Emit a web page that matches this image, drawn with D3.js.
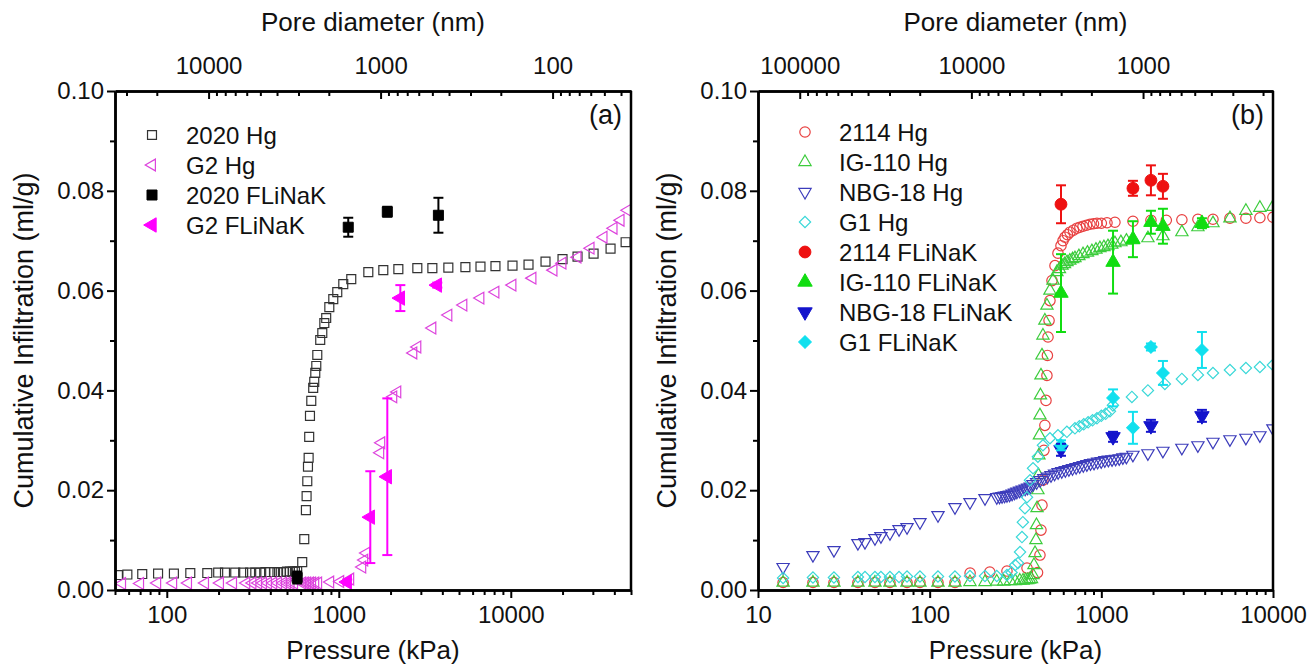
<!DOCTYPE html>
<html>
<head>
<meta charset="utf-8">
<script src="https://cdn.jsdelivr.net/npm/d3@7"></script>
<style>
  body { margin: 0; background: #fff; }
  svg { display: block; }
  text { font-family: "Liberation Sans", Arial, sans-serif; fill: #111; }
</style>
</head>
<body>
<svg id="chart" width="1312" height="668"></svg>
<script>
// ---- panel (a) data: pressure (kPa) and cumulative infiltration (ml/g) ----
const aHg2020P = [52, 59, 72, 89, 110, 137, 172, 199, 218, 250, 278, 305, 327, 349, 374, 399, 420, 440, 460, 480,
  500, 520, 540, 556, 573, 613, 630, 644, 650, 656, 662, 668, 673, 680, 692, 710, 720, 730, 740, 750,
  780, 802, 824, 845, 881, 929, 980, 1062, 1182, 1485, 1815, 2220, 2862, 3500, 4335, 5447, 6666, 8146, 10234, 12680,
  15920, 19990, 24440, 30300, 38030, 46520];
const aHg2020V = [0.0030, 0.0031, 0.0032, 0.0033, 0.0033, 0.0034, 0.0034, 0.0035, 0.0035, 0.0035, 0.0035, 0.0035, 0.0035, 0.0035, 0.0036, 0.0036, 0.0036, 0.0036, 0.0036, 0.0036,
  0.0037, 0.0037, 0.0037, 0.0037, 0.0038, 0.0056, 0.0102, 0.0160, 0.0188, 0.0218, 0.0247, 0.0265, 0.0307, 0.0349, 0.0379, 0.0405, 0.0417, 0.0435, 0.0449, 0.0471,
  0.0501, 0.0515, 0.0535, 0.0545, 0.0567, 0.0583, 0.0597, 0.0613, 0.0623, 0.0637, 0.0641, 0.0643, 0.0645, 0.0645, 0.0646, 0.0647, 0.0648, 0.0649, 0.0650, 0.0652,
  0.0658, 0.0663, 0.0668, 0.0674, 0.0684, 0.0697];

const aHgG2P = [55, 70, 88, 109, 133, 167, 204, 243, 290, 315, 340, 363, 388, 416, 444, 475, 501, 525, 550, 613,
  635, 655, 680, 700, 730, 759, 892, 1020, 1166, 1370, 1407, 1445, 1743, 1767, 2075, 2190, 2714, 2864, 3501, 4338,
  5303, 6661, 8145, 10228, 13370, 17720, 19990, 24440, 29110, 34630, 39600, 43500, 47780];
const aHgG2V = [0.0013, 0.0013, 0.0014, 0.0014, 0.0014, 0.0014, 0.0014, 0.0014, 0.0014, 0.0014, 0.0014, 0.0014, 0.0014, 0.0014, 0.0014, 0.0014, 0.0014, 0.0014, 0.0014, 0.0014,
  0.0014, 0.0014, 0.0014, 0.0014, 0.0014, 0.0014, 0.0016, 0.0017, 0.0022, 0.0046, 0.0060, 0.0074, 0.0275, 0.0295, 0.0387, 0.0397, 0.0475, 0.0487, 0.0525, 0.0551,
  0.0571, 0.0585, 0.0597, 0.0611, 0.0625, 0.0641, 0.0655, 0.0667, 0.0685, 0.0707, 0.0725, 0.0741, 0.0761];

const aFl2020P = [573, 1135, 1915, 3795];
const aFl2020V = [0.0025, 0.0727, 0.0758, 0.0751];
const aFl2020E = [0.0012, 0.0019, 0.0010, 0.0035];

const aFlG2P = [1120, 1525, 1915, 2280, 3740];
const aFlG2V = [0.0016, 0.0146, 0.0227, 0.0585, 0.0611];
const aFlG2E = [0.0005, 0.0092, 0.0157, 0.0026, 0.0005];

// ---- panel (b) data ----
const bHg2114P = [14.0, 20.9, 27.7, 38.2, 48.0, 58.7, 73.8, 87.8, 111.8, 140.4, 172, 224, 282, 369, 425, 439, 445, 451, 457, 463,
  469, 476, 482, 485, 489, 496, 502, 516, 537, 559, 582, 598, 614, 635, 657, 688, 721, 750, 782, 820,
  859, 900, 943, 1000, 1079, 1200, 1528, 1945, 2390, 2946, 3652, 4470, 5613, 6953, 8389, 9988];
const bHg2114V = [0.0015, 0.0015, 0.0015, 0.0015, 0.0015, 0.0015, 0.0015, 0.0015, 0.0015, 0.0015, 0.0034, 0.0036, 0.0038, 0.0044, 0.0035, 0.0070, 0.0120, 0.0170, 0.0220, 0.0280,
  0.0330, 0.0380, 0.0430, 0.0470, 0.0507, 0.0540, 0.0580, 0.0620, 0.0650, 0.0675, 0.0690, 0.0700, 0.0707, 0.0712, 0.0717, 0.0721, 0.0725, 0.0727, 0.0729, 0.0731,
  0.0733, 0.0734, 0.0735, 0.0735, 0.0736, 0.0737, 0.0739, 0.0741, 0.0741, 0.0742, 0.0743, 0.0743, 0.0745, 0.0745, 0.0746, 0.0747];

const bHgIG110P = [14.0, 20.9, 27.7, 38.2, 48.0, 58.7, 73.8, 87.8, 111.8, 140.4, 171.7, 210, 246, 270, 295, 315, 335, 350, 362, 372,
  382, 392, 400, 405, 411, 416, 419, 422, 427, 430, 433, 436, 439, 442, 445, 451, 457, 469, 482, 502,
  523, 551, 570, 590, 610, 631, 655, 680, 702, 740, 782, 830, 881, 930, 981, 1035, 1093, 1150, 1200, 1300,
  1400, 1528, 1868, 2284, 2946, 3652, 4470, 5613, 6953, 8389, 9988];
const bHgIG110V = [0.0015, 0.0015, 0.0015, 0.0015, 0.0015, 0.0015, 0.0015, 0.0015, 0.0015, 0.0015, 0.0016, 0.0016, 0.0017, 0.0017, 0.0018, 0.0018, 0.0019, 0.0019, 0.0020, 0.0020,
  0.0021, 0.0022, 0.0030, 0.0050, 0.0074, 0.0100, 0.0130, 0.0164, 0.0200, 0.0230, 0.0270, 0.0310, 0.0350, 0.0390, 0.0430, 0.0470, 0.0510, 0.0540, 0.0570, 0.0600,
  0.0620, 0.0637, 0.0643, 0.0650, 0.0653, 0.0657, 0.0660, 0.0663, 0.0665, 0.0669, 0.0673, 0.0676, 0.0679, 0.0682, 0.0685, 0.0687, 0.0689, 0.0692, 0.0695, 0.0697,
  0.0700, 0.0701, 0.0705, 0.0709, 0.0717, 0.0727, 0.0735, 0.0745, 0.0760, 0.0766, 0.0768];

const bHgNBG18P = [14.0, 20.9, 27.7, 38.2, 42.0, 48.0, 52.0, 58.7, 66.3, 73.8, 87.8, 111.8, 140.4, 171.7, 210, 246, 255, 264, 273, 282,
  292, 302, 312, 322, 334, 346, 360, 372, 385, 400, 420, 440, 462, 485, 509, 534, 560, 588, 617, 647,
  679, 713, 748, 785, 824, 865, 907, 952, 999, 1048, 1100, 1155, 1212, 1272, 1335, 1400, 1528, 1868, 2284, 2946,
  3652, 4470, 5613, 6953, 8389, 9988];
const bHgNBG18V = [0.0046, 0.0070, 0.0080, 0.0094, 0.0096, 0.0104, 0.0108, 0.0114, 0.0122, 0.0126, 0.0136, 0.0150, 0.0166, 0.0176, 0.0184, 0.0186, 0.0187, 0.0188, 0.0189, 0.0190,
  0.0191, 0.0193, 0.0195, 0.0197, 0.0199, 0.0201, 0.0203, 0.0205, 0.0207, 0.0212, 0.0216, 0.0220, 0.0224, 0.0227, 0.0230, 0.0233, 0.0236, 0.0238, 0.0240, 0.0242,
  0.0244, 0.0246, 0.0248, 0.0250, 0.0252, 0.0254, 0.0255, 0.0257, 0.0258, 0.0260, 0.0261, 0.0262, 0.0263, 0.0264, 0.0266, 0.0267, 0.0271, 0.0274, 0.0279, 0.0285,
  0.0290, 0.0297, 0.0302, 0.0305, 0.0310, 0.0324];

const bHgG1P = [14.0, 20.9, 27.7, 38.2, 42.0, 48.0, 52.0, 58.7, 66.3, 73.8, 87.8, 111.8, 140.4, 171.7, 210, 246, 282, 300, 315, 327,
  336, 345, 349, 359, 369, 384, 400, 427, 457, 502, 559, 630, 702, 745, 790, 838, 889, 943, 1000, 1060,
  1122, 1168, 1507, 1868, 2345, 2946, 3652, 4470, 5613, 6953, 8389, 9988];
const bHgG1V = [0.0024, 0.0025, 0.0025, 0.0026, 0.0026, 0.0026, 0.0026, 0.0026, 0.0026, 0.0027, 0.0027, 0.0027, 0.0027, 0.0028, 0.0028, 0.0028, 0.0030, 0.0035, 0.0050, 0.0054,
  0.0076, 0.0106, 0.0136, 0.0164, 0.0186, 0.0220, 0.0244, 0.0267, 0.0290, 0.0304, 0.0310, 0.0317, 0.0324, 0.0328, 0.0332, 0.0336, 0.0340, 0.0344, 0.0349, 0.0353,
  0.0358, 0.0370, 0.0387, 0.0400, 0.0413, 0.0423, 0.0431, 0.0435, 0.0441, 0.0445, 0.0447, 0.0451];

const bFl2114P = [582, 1528, 1945, 2285];
const bFl2114V = [0.0773, 0.0805, 0.0821, 0.0809];
const bFl2114E = [0.0038, 0.0015, 0.0030, 0.0025];

const bFlIG110P = [582, 1170, 1528, 1945, 2285, 3855];
const bFlIG110V = [0.0595, 0.0657, 0.0703, 0.0737, 0.0729, 0.0735];
const bFlIG110E = [0.0078, 0.0063, 0.0036, 0.0023, 0.0035, 0.0010];

const bFlNBG18P = [582, 1170, 1945, 3855];
const bFlNBG18V = [0.0281, 0.0307, 0.0329, 0.0349];
const bFlNBG18E = [0.0012, 0.0010, 0.0012, 0.0012];

const bFlG1P = [582, 1170, 1528, 1945, 2285, 3855];
const bFlG1V = [0.0290, 0.0385, 0.0325, 0.0487, 0.0435, 0.0481];
const bFlG1E = [0.0010, 0.0017, 0.0032, 0.0007, 0.0024, 0.0036];

const yTicks = [0, 0.02, 0.04, 0.06, 0.08, 0.10];
const aPressureTicks = [100, 1000, 10000];
const aPoreTicks = [10000, 1000, 100];
const bPressureTicks = [10, 100, 1000, 10000];
const bPoreTicks = [100000, 10000, 1000];

const K = 1.75e6; // pore diameter (nm) * pressure (kPa)

const svg = d3.select("#chart");
const plotTop = 91, plotBottom = 590;

function zip(p, v, e) {
  return p.map((d, i) => ({ p: d, v: v[i], e: e ? e[i] : 0 }));
}

function markerPath(m) {
  return d3.symbol().type(m.type).size(m.size)();
}

function drawMarkers(g, x, y, data, m) {
  g.selectAll(null)
    .data(data)
    .enter().append("path")
    .attr("d", markerPath(m))
    .attr("transform", d => `translate(${x(d.p)},${y(d.v)}) rotate(${m.rot || 0})`)
    .attr("fill", m.filled ? m.color : "none")
    .attr("stroke", m.color)
    .attr("stroke-width", m.filled ? 1 : 1.2);
}

function drawErrors(g, x, y, data, color) {
  const eb = g.selectAll(null).data(data).enter().append("g").attr("stroke", color).attr("stroke-width", 2);
  eb.append("line").attr("x1", d => x(d.p)).attr("x2", d => x(d.p))
    .attr("y1", d => y(d.v - d.e)).attr("y2", d => y(d.v + d.e));
  eb.append("line").attr("x1", d => x(d.p) - 5).attr("x2", d => x(d.p) + 5)
    .attr("y1", d => y(d.v - d.e)).attr("y2", d => y(d.v - d.e));
  eb.append("line").attr("x1", d => x(d.p) - 5).attr("x2", d => x(d.p) + 5)
    .attr("y1", d => y(d.v + d.e)).attr("y2", d => y(d.v + d.e));
}

function drawPanel(cfg) {
  const x = d3.scaleLog().domain(cfg.xDomain).range([cfg.left, cfg.right]);
  const y = d3.scaleLinear().domain([0, 0.1]).range([plotBottom, plotTop]);
  const xd = d3.scaleLog().domain([K / cfg.xDomain[0], K / cfg.xDomain[1]]).range([cfg.left, cfg.right]);
  const g = svg.append("g");

  g.append("clipPath").attr("id", "clip-" + cfg.id)
    .append("rect").attr("x", cfg.left).attr("y", plotTop)
    .attr("width", cfg.right - cfg.left).attr("height", plotBottom - plotTop);

  const plot = g.append("g").attr("clip-path", `url(#clip-${cfg.id})`);
  cfg.series.forEach(s => {
    const data = zip(s.p, s.v, s.e);
    if (s.e) drawErrors(g, x, y, data, s.m.color);
    drawMarkers(plot, x, y, data, s.m);
  });

  // bottom axis
  const minorX = x.ticks().filter(t => cfg.pTicks.indexOf(t) < 0);
  g.append("g").attr("class", "axis").attr("transform", `translate(0,${plotBottom})`)
    .call(d3.axisBottom(x).tickValues(minorX).tickFormat("").tickSizeInner(5).tickSizeOuter(0));
  g.append("g").attr("class", "axis").attr("transform", `translate(0,${plotBottom})`)
    .call(d3.axisBottom(x).tickValues(cfg.pTicks).tickFormat(d3.format("d")).tickSizeInner(8).tickSizeOuter(0).tickPadding(8));

  // top axis (pore diameter), ticks inward
  const minorD = xd.ticks().filter(t => cfg.dTicks.indexOf(t) < 0);
  g.append("g").attr("class", "axis").attr("transform", `translate(0,${plotTop})`)
    .call(d3.axisTop(xd).tickValues(minorD).tickFormat("").tickSizeInner(-5).tickSizeOuter(0));
  g.append("g").attr("class", "axis").attr("transform", `translate(0,${plotTop})`)
    .call(d3.axisTop(xd).tickValues(cfg.dTicks).tickFormat(d3.format("d")).tickSizeInner(-8).tickSizeOuter(0).tickPadding(17));

  // left axis
  g.append("g").attr("class", "axis").attr("transform", `translate(${cfg.left},0)`)
    .call(d3.axisLeft(y).tickValues([0.01, 0.03, 0.05, 0.07, 0.09]).tickFormat("").tickSizeInner(5).tickSizeOuter(0));
  g.append("g").attr("class", "axis").attr("transform", `translate(${cfg.left},0)`)
    .call(d3.axisLeft(y).tickValues(yTicks).tickFormat(d3.format(".2f")).tickSizeInner(8).tickSizeOuter(0).tickPadding(3));

  // right frame
  g.append("line").attr("x1", cfg.right).attr("x2", cfg.right).attr("y1", plotTop).attr("y2", plotBottom)
    .attr("stroke", "#000").attr("stroke-width", 2.5);

  // titles
  const cx = (cfg.left + cfg.right) / 2;
  g.append("text").attr("x", cx).attr("y", 659).attr("text-anchor", "middle")
    .attr("font-size", 26).text("Pressure (kPa)");
  g.append("text").attr("x", cx).attr("y", 31).attr("text-anchor", "middle")
    .attr("font-size", 26).text("Pore diameter (nm)");
  g.append("text").attr("transform", `translate(${cfg.left - 82},${(plotTop + plotBottom) / 2}) rotate(-90)`)
    .attr("text-anchor", "middle").attr("font-size", 27).text("Cumulative Infiltration (ml/g)");
  g.append("text").attr("x", cfg.right - 9).attr("y", 124).attr("text-anchor", "end")
    .attr("font-size", 27).text(cfg.label);

  // legend
  cfg.series.forEach((s, i) => {
    const ly = cfg.legend.y + i * 30;
    g.append("path").attr("d", markerPath(s.m))
      .attr("transform", `translate(${cfg.legend.x},${ly}) rotate(${s.m.rot || 0})`)
      .attr("fill", s.m.filled ? s.m.color : "none")
      .attr("stroke", s.m.color).attr("stroke-width", s.m.filled ? 1 : 1.2);
    g.append("text").attr("x", cfg.legend.x + 34).attr("y", ly + 8.5)
      .attr("font-size", 24).text(s.name);
  });
}

drawPanel({
  id: "a", label: "(a)", left: 115, right: 631, xDomain: [50, 50000],
  pTicks: aPressureTicks, dTicks: aPoreTicks, legend: { x: 152, y: 135 },
  series: [
    { name: "2020 Hg", p: aHg2020P, v: aHg2020V, m: { type: d3.symbolSquare, size: 80, color: "#333" } },
    { name: "G2 Hg", p: aHgG2P, v: aHgG2V, m: { type: d3.symbolTriangle, size: 60, rot: -90, color: "#dd44dd" } },
    { name: "2020 FLiNaK", p: aFl2020P, v: aFl2020V, e: aFl2020E, m: { type: d3.symbolSquare, size: 100, filled: true, color: "#000" } },
    { name: "G2  FLiNaK", p: aFlG2P, v: aFlG2V, e: aFlG2E, m: { type: d3.symbolTriangle, size: 90, rot: -90, filled: true, color: "#ff00ff" } }
  ]
});

drawPanel({
  id: "b", label: "(b)", left: 758, right: 1273, xDomain: [10, 10000],
  pTicks: bPressureTicks, dTicks: bPoreTicks, legend: { x: 805, y: 132 },
  series: [
    { name: "2114 Hg", p: bHg2114P, v: bHg2114V, m: { type: d3.symbolCircle, size: 85, color: "#e84040" } },
    { name: "IG-110 Hg", p: bHgIG110P, v: bHgIG110V, m: { type: d3.symbolTriangle, size: 65, color: "#3ccc3c" } },
    { name: "NBG-18 Hg", p: bHgNBG18P, v: bHgNBG18V, m: { type: d3.symbolTriangle, size: 65, rot: 180, color: "#3c3cbb" } },
    { name: "G1 Hg", p: bHgG1P, v: bHgG1V, m: { type: d3.symbolSquare, size: 64, rot: 45, color: "#3ad8d8" } },
    { name: "2114 FLiNaK", p: bFl2114P, v: bFl2114V, e: bFl2114E, m: { type: d3.symbolCircle, size: 110, filled: true, color: "#ee1111" } },
    { name: "IG-110 FLiNaK", p: bFlIG110P, v: bFlIG110V, e: bFlIG110E, m: { type: d3.symbolTriangle, size: 90, filled: true, color: "#11dd11" } },
    { name: "NBG-18 FLiNaK", p: bFlNBG18P, v: bFlNBG18V, e: bFlNBG18E, m: { type: d3.symbolTriangle, size: 90, rot: 180, filled: true, color: "#1414cc" } },
    { name: "G1 FLiNaK", p: bFlG1P, v: bFlG1V, e: bFlG1E, m: { type: d3.symbolSquare, size: 80, rot: 45, filled: true, color: "#11e0ee" } }
  ]
});

svg.selectAll(".axis path.domain").attr("stroke", "#000").attr("stroke-width", 2.5);
svg.selectAll(".axis line").attr("stroke", "#000").attr("stroke-width", 2);
svg.selectAll(".axis text").attr("font-size", 24).attr("font-family", "'Liberation Sans', Arial, sans-serif").attr("fill", "#111");
</script>
</body>
</html>
